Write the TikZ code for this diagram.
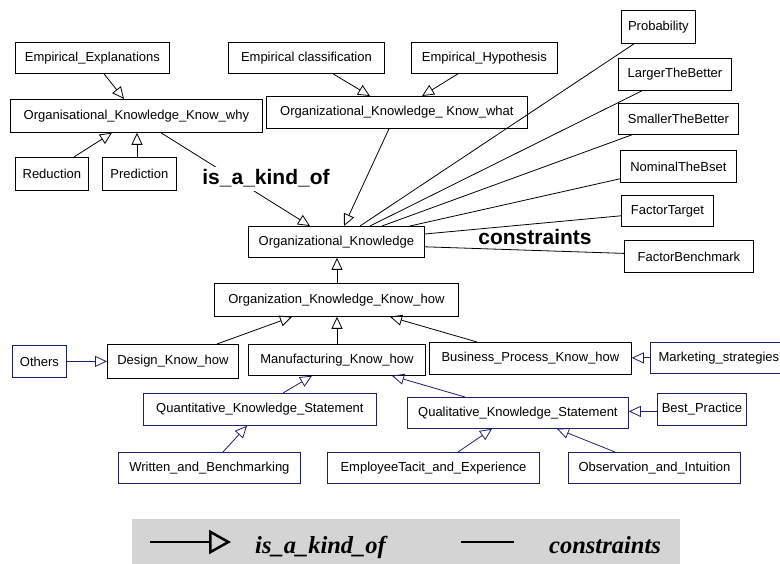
\documentclass[tikz,border=0pt]{standalone}
\usepackage{fontspec}
\setmainfont{Liberation Sans}
\newfontfamily\legendfont{Liberation Serif}
\usetikzlibrary{arrows.meta}
\definecolor{navy}{RGB}{30,30,100}
\definecolor{legendgray}{RGB}{212,212,212}

\tikzset{
  box/.style={draw=black, line width=0.8pt, inner sep=0pt, anchor=north west,
              font=\fontsize{13}{15}\selectfont},
  nbox/.style={box, draw=navy},
  kindof/.style={-{Triangle[open,length=12pt,width=11pt]}, line width=0.8pt},
  nkindof/.style={kindof, draw=navy},
  constraint/.style={line width=0.8pt},
  biglabel/.style={font=\fontsize{21}{24}\selectfont\bfseries, inner sep=3pt},
  legendtext/.style={font=\legendfont\bfseries\itshape\fontsize{24.5}{28}\selectfont, inner sep=0pt},
}

\begin{document}
\begin{tikzpicture}[x=1pt,y=-1pt]
\clip (0,0) rectangle (780,564);

% ---- know-why branch
\node[box, minimum width=154pt, minimum height=31pt] (ee)   at (15,42)   {Empirical\_Explanations};
\node[box, minimum width=252pt, minimum height=33pt] (why)  at (10,99)   {Organisational\_Knowledge\_Know\_why};
\node[box, minimum width=73pt,  minimum height=33pt] (red)  at (15,157)  {Reduction};
\node[box, minimum width=74pt,  minimum height=33pt] (pred) at (102,157) {Prediction};

% ---- know-what branch
\node[box, minimum width=156pt, minimum height=31pt] (ec)   at (228,42)  {Empirical classification};
\node[box, minimum width=146pt, minimum height=31pt] (eh)   at (411,42)  {Empirical\_Hypothesis};
\node[box, minimum width=261pt, minimum height=32pt] (what) at (266,96)  {Organizational\_Knowledge\_ Know\_what};

% ---- constraint boxes
\node[box, minimum width=74pt,  minimum height=33pt] (prob)    at (621,10)  {Probability};
\node[box, minimum width=113pt, minimum height=32pt] (larger)  at (618,58)  {LargerTheBetter};
\node[box, minimum width=120pt, minimum height=31pt] (smaller) at (618,103) {SmallerTheBetter};
\node[box, minimum width=116pt, minimum height=32pt] (nominal) at (620,150) {NominalTheBset};
\node[box, minimum width=92pt,  minimum height=31pt] (ftarget) at (621,195) {FactorTarget};
\node[box, minimum width=129pt, minimum height=32pt] (fbench)  at (624,240) {FactorBenchmark};

% ---- core
\node[box, minimum width=176pt, minimum height=31pt] (ok)  at (248,226) {Organizational\_Knowledge};
\node[box, minimum width=244pt, minimum height=33pt] (how) at (214,283) {Organization\_Knowledge\_Know\_how};

% ---- know-how branch
\node[nbox, minimum width=54pt,  minimum height=32pt] (others) at (12,345)  {Others};
\node[box,  minimum width=131pt, minimum height=34pt] (design) at (107,344) {Design\_Know\_how};
\node[box,  minimum width=177pt, minimum height=31pt] (manu)   at (248,344) {Manufacturing\_Know\_how};
\node[box,  minimum width=202pt, minimum height=32pt] (bus)    at (429,342) {Business\_Process\_Know\_how};
\node[nbox, minimum width=137pt, minimum height=31pt] (mkt)    at (650,342) {Marketing\_strategies};

\node[nbox, minimum width=233pt, minimum height=32pt] (quant) at (143,393) {Quantitative\_Knowledge\_Statement};
\node[nbox, minimum width=221pt, minimum height=31pt] (qual)  at (407,397) {Qualitative\_Knowledge\_Statement};
\node[nbox, minimum width=89pt,  minimum height=32pt] (best)  at (657,393) {Best\_Practice};

\node[nbox, minimum width=182pt, minimum height=31pt] (wb)  at (118,452) {Written\_and\_Benchmarking};
\node[nbox, minimum width=212pt, minimum height=31pt] (emp) at (327,452) {EmployeeTacit\_and\_Experience};
\node[nbox, minimum width=172pt, minimum height=31pt] (obs) at (568,452) {Observation\_and\_Intuition};

% ---- is_a_kind_of connectors
\draw[kindof] ([xshift=89pt]ee.south west)  -- ([xshift=114pt]why.north west);
\draw[kindof] ([xshift=59pt]red.north west) -- ([xshift=102pt]why.south west);
\draw[kindof] ([xshift=35pt]pred.north west) -- ([xshift=35pt]pred.north west |- why.south);
\draw[kindof] ([xshift=151pt]why.south west) -- ([xshift=62pt]ok.north west);

\draw[kindof] ([xshift=105pt]ec.south west) -- ([xshift=104pt]what.north west);
\draw[kindof] ([xshift=47pt]eh.south west)  -- ([xshift=156pt]what.north west);
\draw[kindof] ([xshift=123pt]what.south west) -- ([xshift=96pt]ok.north west);

\draw[kindof] ([xshift=89pt]ok.south west |- how.north) -- ([xshift=89pt]ok.south west);
\draw[kindof] ([xshift=110pt]design.north west) -- ([xshift=78pt]how.south west);
\draw[kindof] ([xshift=123pt]how.south west |- manu.north) -- ([xshift=123pt]how.south west);
\draw[kindof] ([xshift=48pt]bus.north west) -- ([xshift=176pt]how.south west);

\draw[nkindof] (others.east) -- (others.east -| design.west);
\draw[nkindof] (mkt.west) -- (mkt.west -| bus.east);
\draw[nkindof] ([xshift=140pt]quant.north west) -- ([xshift=64pt]manu.south west);
\draw[nkindof] ([xshift=58pt]qual.north west) -- ([xshift=144pt]manu.south west);
\draw[nkindof] ([yshift=-2pt]best.west) -- ([yshift=-2pt]best.west -| qual.east);
\draw[nkindof] ([xshift=105pt]wb.north west) -- ([xshift=104pt]quant.south west);
\draw[nkindof] ([xshift=131pt]emp.north west) -- ([xshift=85pt]qual.south west);
\draw[nkindof] ([xshift=47pt]obs.north west) -- ([xshift=150pt]qual.south west);

% ---- constraints connectors
\draw[constraint] ([xshift=13pt]prob.south west)    -- ([xshift=112pt]ok.north west);
\draw[constraint] ([xshift=24pt]larger.south west)  -- ([xshift=122pt]ok.north west);
\draw[constraint] ([xshift=14pt]smaller.south west) -- ([xshift=134pt]ok.north west);
\draw[constraint] ([yshift=4pt]nominal.south west)  -- ([xshift=162pt]ok.north west);
\draw[constraint] ([yshift=11pt]ftarget.south west) -- ([yshift=-8pt]ok.north east);
\draw[constraint] ([yshift=3pt]fbench.west)         -- ([yshift=11pt]ok.south east);

% ---- relation labels
\node[biglabel, fill=white, anchor=base] (kindlabel) at (266,185) {is\_a\_kind\_of};
\node[biglabel, anchor=base] (conslabel) at (535,245) {constraints};

% ---- legend
\fill[legendgray] (132,519) rectangle (680,564);
\coordinate (lgA) at (150,542);
\coordinate (lgB) at (231,542);
\draw[line width=2.7pt, -{Triangle[open,length=22pt,width=24pt,line width=2.5pt]}] (lgA) -- (lgB);
\node[legendtext, anchor=base west] (lgkind) at (255,553) {is\_a\_kind\_of};
\coordinate (lgC) at (461,542);
\coordinate (lgD) at (514,542);
\draw[line width=2.7pt] (lgC) -- (lgD);
\node[legendtext, anchor=base west] (lgcons) at (549,553) {constraints};
\end{tikzpicture}
\end{document}
